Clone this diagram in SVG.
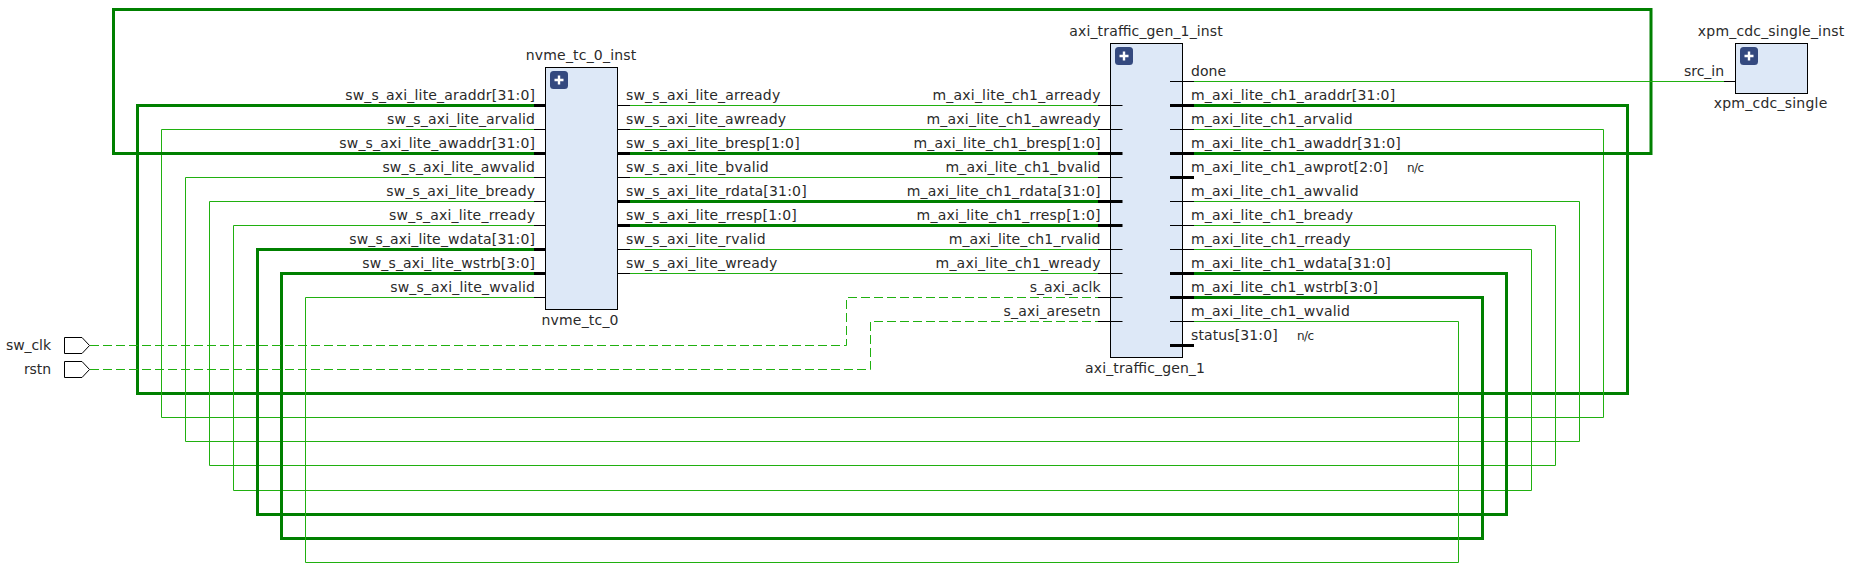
<svg xmlns="http://www.w3.org/2000/svg" width="1850" height="570" viewBox="0 0 1850 570">
<style>
text{font-family:"DejaVu Sans",sans-serif;font-size:14px;fill:#2a2a2a}
.e{text-anchor:end}
.m{text-anchor:middle}
.nc{font-size:12px}
.box{fill:#dde8f7;stroke:#000;stroke-width:1}
.btn{fill:#34497f}
.plus{stroke:#fff;stroke-width:2.4;fill:none}
.port{fill:#fff;stroke:#000;stroke-width:1}
.t{fill:none;stroke:#20b010;stroke-width:1}
.b{fill:none;stroke:#008000;stroke-width:3}
.d{fill:none;stroke:#20b010;stroke-width:1;stroke-dasharray:9 4}
.s{fill:none;stroke:#000;stroke-width:1}
.sb{fill:none;stroke:#000;stroke-width:3}
</style>
<g id="connectors">
<path class="b" d="M534 105.5H137.5V393.5H1627.5V105.5H1194"/>
<path class="t" d="M534 129.5H161.5V417.5H1603.5V129.5H1194"/>
<path class="b" d="M534 153.5H113.5V9.5H1651V153.5H1194"/>
<path class="t" d="M534 177.5H185.5V441.5H1579.5V201.5H1194"/>
<path class="t" d="M534 201.5H209.5V465.5H1555.5V225.5H1194"/>
<path class="t" d="M534 225.5H233.5V490.5H1531.5V249.5H1194"/>
<path class="b" d="M534 249.5H257.5V514.5H1506.5V273.5H1194"/>
<path class="b" d="M534 273.5H281.5V538.5H1482.5V297.5H1194"/>
<path class="t" d="M534 297.5H305.5V562.5H1458.5V321.5H1194"/>
<path class="t" d="M630 105.5H1098"/>
<path class="t" d="M630 129.5H1098"/>
<path class="b" d="M630 153.5H1098"/>
<path class="t" d="M630 177.5H1098"/>
<path class="b" d="M630 201.5H1098"/>
<path class="b" d="M630 225.5H1098"/>
<path class="t" d="M630 249.5H1098"/>
<path class="t" d="M630 273.5H1098"/>
<path class="t" d="M1194 81.5H1724"/>
<path class="d" d="M90 345.5H846.5V297.5H1098"/>
<path class="d" d="M90 369.5H870.5V321.5H1098"/>
</g>
<g id="sw_clk">
<polygon class="port" points="64.5,337.5 82,337.5 89.5,345.5 82,353.5 64.5,353.5"/>
<text class="e" x="51" y="350" textLength="45">sw_clk</text>
</g>
<g id="rstn">
<polygon class="port" points="64.5,361.5 82,361.5 89.5,369.5 82,377.5 64.5,377.5"/>
<text class="e" x="51" y="374" textLength="27">rstn</text>
</g>
<g id="nvme_tc_0_inst">
<rect class="box" x="545.5" y="67.5" width="72" height="242"/>
<rect class="btn" x="550" y="71" width="18" height="18" rx="3.5"/>
<path class="plus" d="M559 75.5V84.5M554.5 80H563.5"/>
<path class="sb" d="M534 105.5H545M534 153.5H545M534 249.5H545M534 273.5H545M618 153.5H630M618 201.5H630M618 225.5H630"/>
<path class="s" d="M534 129.5H545M534 177.5H545M534 201.5H545M534 225.5H545M534 297.5H545M618 105.5H630M618 129.5H630M618 177.5H630M618 249.5H630M618 273.5H630"/>
<text class="m" x="581" y="60" textLength="110.5">nvme_tc_0_inst</text>
<text class="m" x="580" y="325" textLength="77">nvme_tc_0</text>
<text class="e" x="535" y="100" textLength="189.8">sw_s_axi_lite_araddr[31:0]</text>
<text class="e" x="535" y="124" textLength="147.9">sw_s_axi_lite_arvalid</text>
<text class="e" x="535" y="148" textLength="195.7">sw_s_axi_lite_awaddr[31:0]</text>
<text class="e" x="535" y="172" textLength="152.6">sw_s_axi_lite_awvalid</text>
<text class="e" x="535" y="196" textLength="148.7">sw_s_axi_lite_bready</text>
<text class="e" x="535" y="220" textLength="145.9">sw_s_axi_lite_rready</text>
<text class="e" x="535" y="244" textLength="185.8">sw_s_axi_lite_wdata[31:0]</text>
<text class="e" x="535" y="268" textLength="172.8">sw_s_axi_lite_wstrb[3:0]</text>
<text class="e" x="535" y="292" textLength="144.7">sw_s_axi_lite_wvalid</text>
<text x="626" y="100" textLength="154.2">sw_s_axi_lite_arready</text>
<text x="626" y="124" textLength="160">sw_s_axi_lite_awready</text>
<text x="626" y="148" textLength="173.6">sw_s_axi_lite_bresp[1:0]</text>
<text x="626" y="172" textLength="142.7">sw_s_axi_lite_bvalid</text>
<text x="626" y="196" textLength="180.7">sw_s_axi_lite_rdata[31:0]</text>
<text x="626" y="220" textLength="170.8">sw_s_axi_lite_rresp[1:0]</text>
<text x="626" y="244" textLength="139.6">sw_s_axi_lite_rvalid</text>
<text x="626" y="268" textLength="151.4">sw_s_axi_lite_wready</text>
</g>
<g id="axi_traffic_gen_1_inst">
<rect class="box" x="1110.5" y="43.5" width="72" height="314"/>
<rect class="btn" x="1115" y="47" width="18" height="18" rx="3.5"/>
<path class="plus" d="M1124 51.5V60.5M1119.5 56H1128.5"/>
<path class="sb" d="M1098 153.5H1122.5M1098 201.5H1122.5M1098 225.5H1122.5M1170 105.5H1194M1170 153.5H1194M1170 177.5H1194M1170 273.5H1194M1170 297.5H1194M1170 345.5H1194"/>
<path class="s" d="M1098 105.5H1122.5M1098 129.5H1122.5M1098 177.5H1122.5M1098 249.5H1122.5M1098 273.5H1122.5M1098 297.5H1122.5M1098 321.5H1122.5M1170 81.5H1194M1170 129.5H1194M1170 201.5H1194M1170 225.5H1194M1170 249.5H1194M1170 321.5H1194"/>
<text class="m" x="1146" y="36" textLength="153.6">axi_traffic_gen_1_inst</text>
<text class="m" x="1145" y="373" textLength="119.8">axi_traffic_gen_1</text>
<text class="e" x="1100.5" y="100" textLength="168">m_axi_lite_ch1_arready</text>
<text class="e" x="1100.5" y="124" textLength="174">m_axi_lite_ch1_awready</text>
<text class="e" x="1100.5" y="148" textLength="187">m_axi_lite_ch1_bresp[1:0]</text>
<text class="e" x="1100.5" y="172" textLength="155">m_axi_lite_ch1_bvalid</text>
<text class="e" x="1100.5" y="196" textLength="193.8">m_axi_lite_ch1_rdata[31:0]</text>
<text class="e" x="1100.5" y="220" textLength="183.9">m_axi_lite_ch1_rresp[1:0]</text>
<text class="e" x="1100.5" y="244" textLength="151.8">m_axi_lite_ch1_rvalid</text>
<text class="e" x="1100.5" y="268" textLength="164.9">m_axi_lite_ch1_wready</text>
<text class="e" x="1100.5" y="292" textLength="70.8">s_axi_aclk</text>
<text class="e" x="1100.5" y="316" textLength="96.9">s_axi_aresetn</text>
<text x="1191" y="76" textLength="35">done</text>
<text x="1191" y="100" textLength="204.2">m_axi_lite_ch1_araddr[31:0]</text>
<text x="1191" y="124" textLength="161.6">m_axi_lite_ch1_arvalid</text>
<text x="1191" y="148" textLength="209.8">m_axi_lite_ch1_awaddr[31:0]</text>
<text x="1191" y="172" textLength="196.9">m_axi_lite_ch1_awprot[2:0]</text>
<text class="nc" x="1407" y="172" textLength="17">n/c</text>
<text x="1191" y="196" textLength="167.6">m_axi_lite_ch1_awvalid</text>
<text x="1191" y="220" textLength="162">m_axi_lite_ch1_bready</text>
<text x="1191" y="244" textLength="159.6">m_axi_lite_ch1_rready</text>
<text x="1191" y="268" textLength="199.8">m_axi_lite_ch1_wdata[31:0]</text>
<text x="1191" y="292" textLength="186.9">m_axi_lite_ch1_wstrb[3:0]</text>
<text x="1191" y="316" textLength="158.8">m_axi_lite_ch1_wvalid</text>
<text x="1191" y="340" textLength="86.7">status[31:0]</text>
<text class="nc" x="1297" y="340" textLength="17">n/c</text>
</g>
<g id="xpm_cdc_single_inst">
<rect class="box" x="1735.5" y="43.5" width="72" height="50"/>
<rect class="btn" x="1740" y="47" width="18" height="18" rx="3.5"/>
<path class="plus" d="M1749 51.5V60.5M1744.5 56H1753.5"/>
<path class="s" d="M1724 81.5H1735"/>
<text class="m" x="1771" y="36" textLength="146.3">xpm_cdc_single_inst</text>
<text class="m" x="1770.5" y="108" textLength="113.7">xpm_cdc_single</text>
<text class="e" x="1724" y="76" textLength="40">src_in</text>
</g>
</svg>
